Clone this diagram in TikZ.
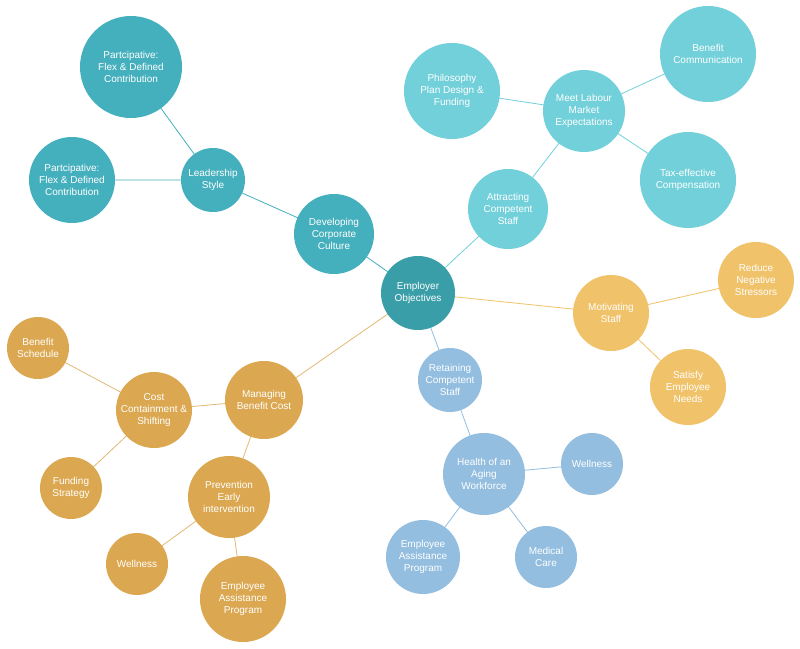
\documentclass[tikz,border=0pt]{standalone}
\usepackage{fontspec}
\setmainfont{Liberation Sans}
\definecolor{cdark}{HTML}{3A9EA8}
\definecolor{cteal}{HTML}{45B0BD}
\definecolor{clight}{HTML}{72D0DA}
\definecolor{corange}{HTML}{F0C26A}
\definecolor{cblue}{HTML}{93BEDF}
\definecolor{cbrown}{HTML}{DBA851}
\begin{document}
\begin{tikzpicture}[x=1pt,y=-1pt,
  bub/.style 2 args={circle,fill=#1,minimum size=#2*2pt,inner sep=0pt,text=white,align=center,font=\fontsize{10}{12}\selectfont},
  lk/.style={draw=#1,line width=0.8pt}]
\fill[white] (0,0) rectangle (800,648);
\useasboundingbox (0,0) rectangle (800,648);
% edges first
\coordinate (eo) at (418,293);
\coordinate (dc) at (334,234);
\coordinate (ls) at (213,180);
\coordinate (p1) at (131,67);
\coordinate (p2) at (72,180);
\coordinate (as) at (508,209);
\coordinate (ml) at (584,111);
\coordinate (ph) at (452,91);
\coordinate (bc) at (708,54);
\coordinate (tx) at (688,180);
\coordinate (ms) at (611,313);
\coordinate (rn) at (756,280);
\coordinate (se) at (688,387);
\coordinate (rc) at (450,380);
\coordinate (hw) at (484,474);
\coordinate (wb) at (592,464);
\coordinate (mc) at (546,557);
\coordinate (eb) at (423,557);
\coordinate (mb) at (264,400);
\coordinate (cc) at (154,410);
\coordinate (bs) at (38,348);
\coordinate (fs) at (71,488);
\coordinate (pe) at (229,497);
\coordinate (wo) at (137,564);
\coordinate (eo2) at (243,599);
\draw[lk=cteal] (eo)--(dc) (dc)--(ls) (ls)--(p1) (ls)--(p2);
\draw[lk=clight] (eo)--(as) (as)--(ml) (ml)--(ph) (ml)--(bc) (ml)--(tx);
\draw[lk=corange] (eo)--(ms) (ms)--(rn) (ms)--(se);
\draw[lk=cblue] (eo)--(rc) (rc)--(hw) (hw)--(wb) (hw)--(mc) (hw)--(eb);
\draw[lk=cbrown!80] (eo)--(mb) (mb)--(cc) (cc)--(bs) (cc)--(fs) (mb)--(pe) (pe)--(wo) (pe)--(eo2);
% nodes
\node[bub={cdark}{37}] (n1) at (eo) {Employer\\Objectives};
\node[bub={cteal}{40}] (n2) at (dc) {Developing\\Corporate\\Culture};
\node[bub={cteal}{32}] (n3) at (ls) {Leadership\\Style};
\node[bub={cteal}{51}] (n4) at (p1) {Partcipative:\\Flex \& Defined\\Contribution};
\node[bub={cteal}{43}] (n5) at (p2) {Partcipative:\\Flex \& Defined\\Contribution};
\node[bub={clight}{40}] (n6) at (as) {Attracting\\Competent\\Staff};
\node[bub={clight}{41}] (n7) at (ml) {Meet Labour\\Market\\Expectations};
\node[bub={clight}{48}] (n8) at (ph) {Philosophy\\Plan Design \&\\Funding};
\node[bub={clight}{48}] (n9) at (bc) {Benefit\\Communication};
\node[bub={clight}{48}] (n10) at (tx) {Tax-effective\\Compensation};
\node[bub={corange}{38}] (n11) at (ms) {Motivating\\Staff};
\node[bub={corange}{38}] (n12) at (rn) {Reduce\\Negative\\Stressors};
\node[bub={corange}{38}] (n13) at (se) {Satisfy\\Employee\\Needs};
\node[bub={cblue}{32}] (n14) at (rc) {Retaining\\Competent\\Staff};
\node[bub={cblue}{41}] (n15) at (hw) {Health of an\\Aging\\Workforce};
\node[bub={cblue}{31}] (n16) at (wb) {Wellness};
\node[bub={cblue}{31}] (n17) at (mc) {Medical\\Care};
\node[bub={cblue}{37}] (n18) at (eb) {Employee\\Assistance\\Program};
\node[bub={cbrown}{39}] (n19) at (mb) {Managing\\Benefit Cost};
\node[bub={cbrown}{38}] (n20) at (cc) {Cost\\Containment \&\\Shifting};
\node[bub={cbrown}{31}] (n21) at (bs) {Benefit\\Schedule};
\node[bub={cbrown}{31}] (n22) at (fs) {Funding\\Strategy};
\node[bub={cbrown}{41}] (n23) at (pe) {Prevention\\Early\\intervention};
\node[bub={cbrown}{31}] (n24) at (wo) {Wellness};
\node[bub={cbrown}{43}] (n25) at (eo2) {Employee\\Assistance\\Program};
\end{tikzpicture}
\end{document}
